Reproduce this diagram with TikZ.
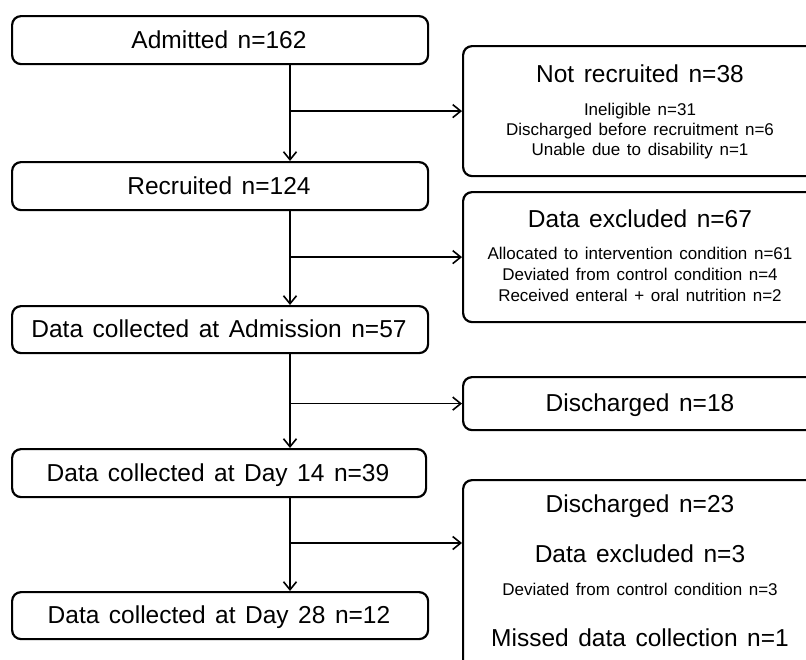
\documentclass[tikz,border=0pt]{standalone}
\usepackage{fontspec}
\setmainfont{Liberation Sans}[WordSpace=1.4]
\usetikzlibrary{arrows.meta,calc}
\begin{document}
\begin{tikzpicture}[x=1pt,y=-1pt,
  box/.style={draw=black,line width=2.2pt,rounded corners=9pt,inner sep=0pt,anchor=north west},
  big/.style={font=\fontsize{24.5}{28}\selectfont,anchor=base,inner sep=0pt},
  small/.style={font=\fontsize{17}{20}\selectfont,anchor=base,inner sep=0pt},
  arr/.style={line width=1.6pt,-{Straight Barb[length=8pt,width=13pt,line width=1.6pt]}},
  conn/.style={line width=1.6pt}]
\useasboundingbox (0,0) rectangle (806,659);
% left boxes
\node[box,minimum width=416pt,minimum height=48pt] (adm) at (11,15) {};
\node[box,minimum width=416pt,minimum height=48pt] (rec) at (11,161) {};
\node[box,minimum width=416pt,minimum height=47pt] (dadm) at (11,305) {};
\node[box,minimum width=414pt,minimum height=48pt] (d14) at (11,448) {};
\node[box,minimum width=416pt,minimum height=47pt] (d28) at (11,591) {};
% right boxes
\node[box,minimum width=356pt,minimum height=130pt] (notrec) at (462,45) {};
\node[box,minimum width=356pt,minimum height=130pt] (excl) at (462,191) {};
\node[box,minimum width=356pt,minimum height=53pt] (dis18) at (462,376) {};
\node[box,minimum width=356pt,minimum height=195pt] (last) at (462,479) {};
% texts left
\node[big] (tadm) at (219,48) {Admitted n=162};
\node[big] (trec) at (219,194) {Recruited n=124};
\node[big] (tdadm) at (219,337.5) {Data collected at Admission n=57};
\node[big] (td14) at (218,481) {Data collected at Day 14 n=39};
\node[big] (td28) at (219,623.5) {Data collected at Day 28 n=12};
% texts right
\node[big] (tnr) at (640,82) {Not recruited n=38};
\node[small] (tnr1) at (640,115) {Ineligible n=31};
\node[small] (tnr2) at (640,135) {Discharged before recruitment n=6};
\node[small] (tnr3) at (640,155) {Unable due to disability n=1};
\node[big] (tex) at (640,227) {Data excluded n=67};
\node[small] (tex1) at (640,259) {Allocated to intervention condition n=61};
\node[small] (tex2) at (640,280) {Deviated from control condition n=4};
\node[small] (tex3) at (640,301) {Received enteral + oral nutrition n=2};
\node[big] (td18) at (640,411) {Discharged n=18};
\node[big] (tl1) at (640,512) {Discharged n=23};
\node[big] (tl2) at (640,562) {Data excluded n=3};
\node[small] (tl3) at (640,595) {Deviated from control condition n=3};
\node[big] (tl4) at (640,646) {Missed data collection n=1};
% spine and branch points
\coordinate (sp) at (290,0);
\coordinate (b4) at (290,543);
% connectors
\draw[arr] (adm.south -| sp) -- (rec.north -| sp);
\draw[arr] (rec.south -| sp) -- (dadm.north -| sp);
\draw[arr] (dadm.south -| sp) -- (d14.north -| sp);
\draw[arr] (d14.south -| sp) -- (d28.north -| sp);
\draw[arr] (sp |- notrec.west) -- (notrec.west);
\draw[arr] (sp |- excl.west) -- (excl.west);
\draw[arr] (sp |- dis18.west) -- (dis18.west);
\draw[arr] (b4) -- (b4 -| last.west);
\end{tikzpicture}
\end{document}
